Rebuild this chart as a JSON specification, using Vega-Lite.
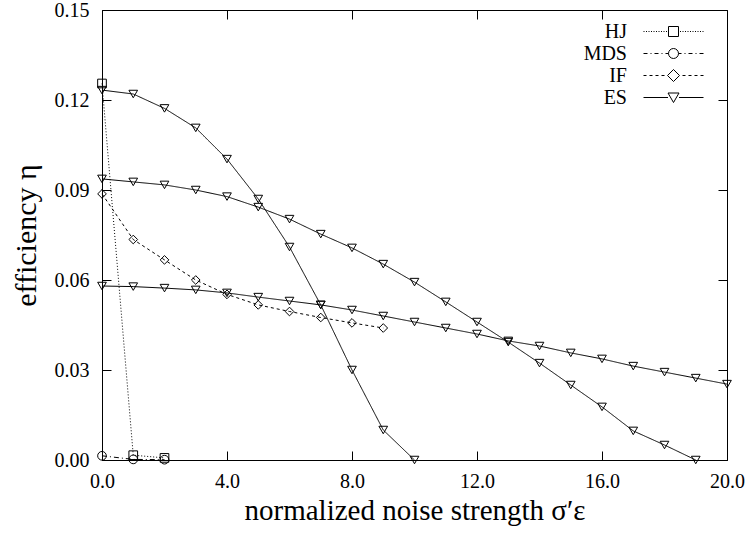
{
  "$schema": "https://vega.github.io/schema/vega-lite/v6.json",
  "width": 625,
  "height": 450,
  "autosize": {"type": "none"},
  "padding": {"left": 102, "top": 10, "right": 20, "bottom": 75},
  "background": "white",
  "config": {
    "font": "Liberation Serif",
    "view": {"stroke": "black", "strokeWidth": 1},
    "axis": {"grid": false, "domainColor": "black", "tickColor": "black", "labelColor": "black", "titleColor": "black", "labelFont": "Liberation Serif", "titleFont": "Liberation Serif", "titleFontWeight": "normal", "labelFontSize": 20, "titleFontSize": 29, "labelFlush": false},
    "legend": {"labelFont": "Liberation Serif", "labelColor": "black"}
  },
  "data": {"values": [
    {"x": 0, "y": 0.1255, "method": "HJ", "series": "HJ"},
    {"x": 1, "y": 0.0016, "method": "HJ", "series": "HJ"},
    {"x": 2, "y": 0.0007, "method": "HJ", "series": "HJ"},
    {"x": 0, "y": 0.0014, "method": "MDS", "series": "MDS"},
    {"x": 1, "y": 0.0002, "method": "MDS", "series": "MDS"},
    {"x": 2, "y": 0.0001, "method": "MDS", "series": "MDS"},
    {"x": 0, "y": 0.0887, "method": "IF", "series": "IF"},
    {"x": 1, "y": 0.0735, "method": "IF", "series": "IF"},
    {"x": 2, "y": 0.0667, "method": "IF", "series": "IF"},
    {"x": 3, "y": 0.0600, "method": "IF", "series": "IF"},
    {"x": 4, "y": 0.0552, "method": "IF", "series": "IF"},
    {"x": 5, "y": 0.0517, "method": "IF", "series": "IF"},
    {"x": 6, "y": 0.0495, "method": "IF", "series": "IF"},
    {"x": 7, "y": 0.0475, "method": "IF", "series": "IF"},
    {"x": 8, "y": 0.0457, "method": "IF", "series": "IF"},
    {"x": 9, "y": 0.0440, "method": "IF", "series": "IF"},
    {"x": 0, "y": 0.1233, "method": "ES", "series": "ES1"},
    {"x": 1, "y": 0.1220, "method": "ES", "series": "ES1"},
    {"x": 2, "y": 0.1172, "method": "ES", "series": "ES1"},
    {"x": 3, "y": 0.1107, "method": "ES", "series": "ES1"},
    {"x": 4, "y": 0.1003, "method": "ES", "series": "ES1"},
    {"x": 5, "y": 0.0870, "method": "ES", "series": "ES1"},
    {"x": 6, "y": 0.0710, "method": "ES", "series": "ES1"},
    {"x": 7, "y": 0.0517, "method": "ES", "series": "ES1"},
    {"x": 8, "y": 0.0300, "method": "ES", "series": "ES1"},
    {"x": 9, "y": 0.0100, "method": "ES", "series": "ES1"},
    {"x": 10, "y": 0.0000, "method": "ES", "series": "ES1"},
    {"x": 0, "y": 0.0937, "method": "ES", "series": "ES2"},
    {"x": 1, "y": 0.0927, "method": "ES", "series": "ES2"},
    {"x": 2, "y": 0.0917, "method": "ES", "series": "ES2"},
    {"x": 3, "y": 0.0900, "method": "ES", "series": "ES2"},
    {"x": 4, "y": 0.0878, "method": "ES", "series": "ES2"},
    {"x": 5, "y": 0.0843, "method": "ES", "series": "ES2"},
    {"x": 6, "y": 0.0803, "method": "ES", "series": "ES2"},
    {"x": 7, "y": 0.0753, "method": "ES", "series": "ES2"},
    {"x": 8, "y": 0.0707, "method": "ES", "series": "ES2"},
    {"x": 9, "y": 0.0653, "method": "ES", "series": "ES2"},
    {"x": 10, "y": 0.0593, "method": "ES", "series": "ES2"},
    {"x": 11, "y": 0.0527, "method": "ES", "series": "ES2"},
    {"x": 12, "y": 0.0460, "method": "ES", "series": "ES2"},
    {"x": 13, "y": 0.0393, "method": "ES", "series": "ES2"},
    {"x": 14, "y": 0.0323, "method": "ES", "series": "ES2"},
    {"x": 15, "y": 0.0250, "method": "ES", "series": "ES2"},
    {"x": 16, "y": 0.0177, "method": "ES", "series": "ES2"},
    {"x": 17, "y": 0.0097, "method": "ES", "series": "ES2"},
    {"x": 18, "y": 0.0050, "method": "ES", "series": "ES2"},
    {"x": 19, "y": 0.0000, "method": "ES", "series": "ES2"},
    {"x": 0, "y": 0.0580, "method": "ES", "series": "ES3"},
    {"x": 1, "y": 0.0578, "method": "ES", "series": "ES3"},
    {"x": 2, "y": 0.0573, "method": "ES", "series": "ES3"},
    {"x": 3, "y": 0.0567, "method": "ES", "series": "ES3"},
    {"x": 4, "y": 0.0557, "method": "ES", "series": "ES3"},
    {"x": 5, "y": 0.0543, "method": "ES", "series": "ES3"},
    {"x": 6, "y": 0.0530, "method": "ES", "series": "ES3"},
    {"x": 7, "y": 0.0517, "method": "ES", "series": "ES3"},
    {"x": 8, "y": 0.0500, "method": "ES", "series": "ES3"},
    {"x": 9, "y": 0.0480, "method": "ES", "series": "ES3"},
    {"x": 10, "y": 0.0460, "method": "ES", "series": "ES3"},
    {"x": 11, "y": 0.0440, "method": "ES", "series": "ES3"},
    {"x": 12, "y": 0.0420, "method": "ES", "series": "ES3"},
    {"x": 13, "y": 0.0397, "method": "ES", "series": "ES3"},
    {"x": 14, "y": 0.0380, "method": "ES", "series": "ES3"},
    {"x": 15, "y": 0.0357, "method": "ES", "series": "ES3"},
    {"x": 16, "y": 0.0337, "method": "ES", "series": "ES3"},
    {"x": 17, "y": 0.0313, "method": "ES", "series": "ES3"},
    {"x": 18, "y": 0.0293, "method": "ES", "series": "ES3"},
    {"x": 19, "y": 0.0273, "method": "ES", "series": "ES3"},
    {"x": 20, "y": 0.0253, "method": "ES", "series": "ES3"}
  ]},
  "resolve": {"axis": {"x": "independent", "y": "independent"}, "scale": {"shape": "independent"}},
  "layer": [
    {
      "mark": {"type": "line", "color": "black", "strokeWidth": 1},
      "encoding": {
        "x": {"field": "x", "type": "quantitative", "scale": {"domain": [0, 20], "nice": false},
              "axis": {"orient": "bottom", "values": [0, 4, 8, 12, 16, 20], "format": ".1f", "tickSize": -9, "labelPadding": 20, "title": "normalized noise strength σ′ε", "titlePadding": 5}},
        "y": {"field": "y", "type": "quantitative", "scale": {"domain": [0, 0.15], "nice": false},
              "axis": {"orient": "left", "values": [0, 0.03, 0.06, 0.09, 0.12, 0.15], "format": ".2f", "tickSize": -9, "labelPadding": 22, "title": "efficiency η", "titlePadding": 13, "titleFontSize": 30}},
        "detail": {"field": "series"},
        "strokeDash": {"field": "method", "type": "nominal", "legend": null,
                       "scale": {"domain": ["HJ", "MDS", "IF", "ES"], "range": [[1, 2], [5, 3, 1, 3], [3, 3], [1, 0]]}}
      }
    },
    {
      "mark": {"type": "point", "color": "black", "filled": false, "strokeWidth": 1, "size": 75, "opacity": 1},
      "encoding": {
        "x": {"field": "x", "type": "quantitative", "scale": {"domain": [0, 20], "nice": false}, "axis": null},
        "y": {"field": "y", "type": "quantitative", "scale": {"domain": [0, 0.15], "nice": false}, "axis": null},
        "shape": {"field": "method", "type": "nominal", "legend": null,
                  "scale": {"domain": ["HJ", "MDS", "IF", "ES"], "range": ["square", "circle", "diamond", "triangle-down"]}}
      }
    },
    {
      "mark": {"type": "point", "opacity": 0, "filled": false},
      "encoding": {
        "x": {"field": "x", "type": "quantitative", "scale": {"domain": [0, 20], "nice": false},
              "axis": {"orient": "top", "values": [0, 4, 8, 12, 16, 20], "tickSize": -9, "labels": false, "title": null, "domain": false}},
        "y": {"field": "y", "type": "quantitative", "scale": {"domain": [0, 0.15], "nice": false},
              "axis": {"orient": "right", "values": [0, 0.03, 0.06, 0.09, 0.12, 0.15], "tickSize": -9, "labels": false, "title": null, "domain": false}}
      }
    },
    {
      "data": {"values": [{"method": "HJ"}, {"method": "MDS"}, {"method": "IF"}, {"method": "ES"}]},
      "mark": {"type": "point", "opacity": 0, "filled": false, "color": "black"},
      "encoding": {
        "shape": {"field": "method", "type": "nominal",
                  "scale": {"domain": ["HJ", "MDS", "IF", "ES"], "range": [
                    "M-3,0h0.1m0.15,0h0.1m0.15,0h0.1m0.15,0h0.1m0.15,0h0.1m0.15,0h0.1m0.15,0h0.1m0.15,0h0.1m0.15,0h0.1m0.15,0h0.1M-0.5,-0.5h1v1h-1zM0.65,0h0.1m0.15,0h0.1m0.15,0h0.1m0.15,0h0.1m0.15,0h0.1m0.15,0h0.1m0.15,0h0.1m0.15,0h0.1m0.15,0h0.1m0.15,0h0.1",
                    "M-3,0h0.4m0.3,0h0.1m0.3,0h0.4m0.3,0h0.1m0.3,0h0.3M0.5,0A0.5,0.5,0,1,1,-0.5,0A0.5,0.5,0,1,1,0.5,0M0.5,0h0.3m0.3,0h0.1m0.3,0h0.4m0.3,0h0.1m0.3,0h0.4",
                    "M-3,0h0.3m0.3,0h0.3m0.3,0h0.3m0.3,0h0.3m0.3,0M-0.6,0L0,-0.6L0.6,0L0,0.6ZM0.9,0h0.3m0.3,0h0.3m0.3,0h0.3m0.3,0h0.3",
                    "M-3,0H-0.55M0.55,0H3M-0.55,-0.45H0.55L0,0.5Z"
                  ]},
                  "legend": {"orient": "none", "legendX": 561, "legendY": 11, "title": null, "symbolSize": 400, "symbolStrokeWidth": 1, "symbolOpacity": 1, "symbolStrokeColor": "black", "labelAlign": "right", "labelOffset": -57, "labelFontSize": 20, "rowPadding": 1}}
      }
    }
  ]
}
